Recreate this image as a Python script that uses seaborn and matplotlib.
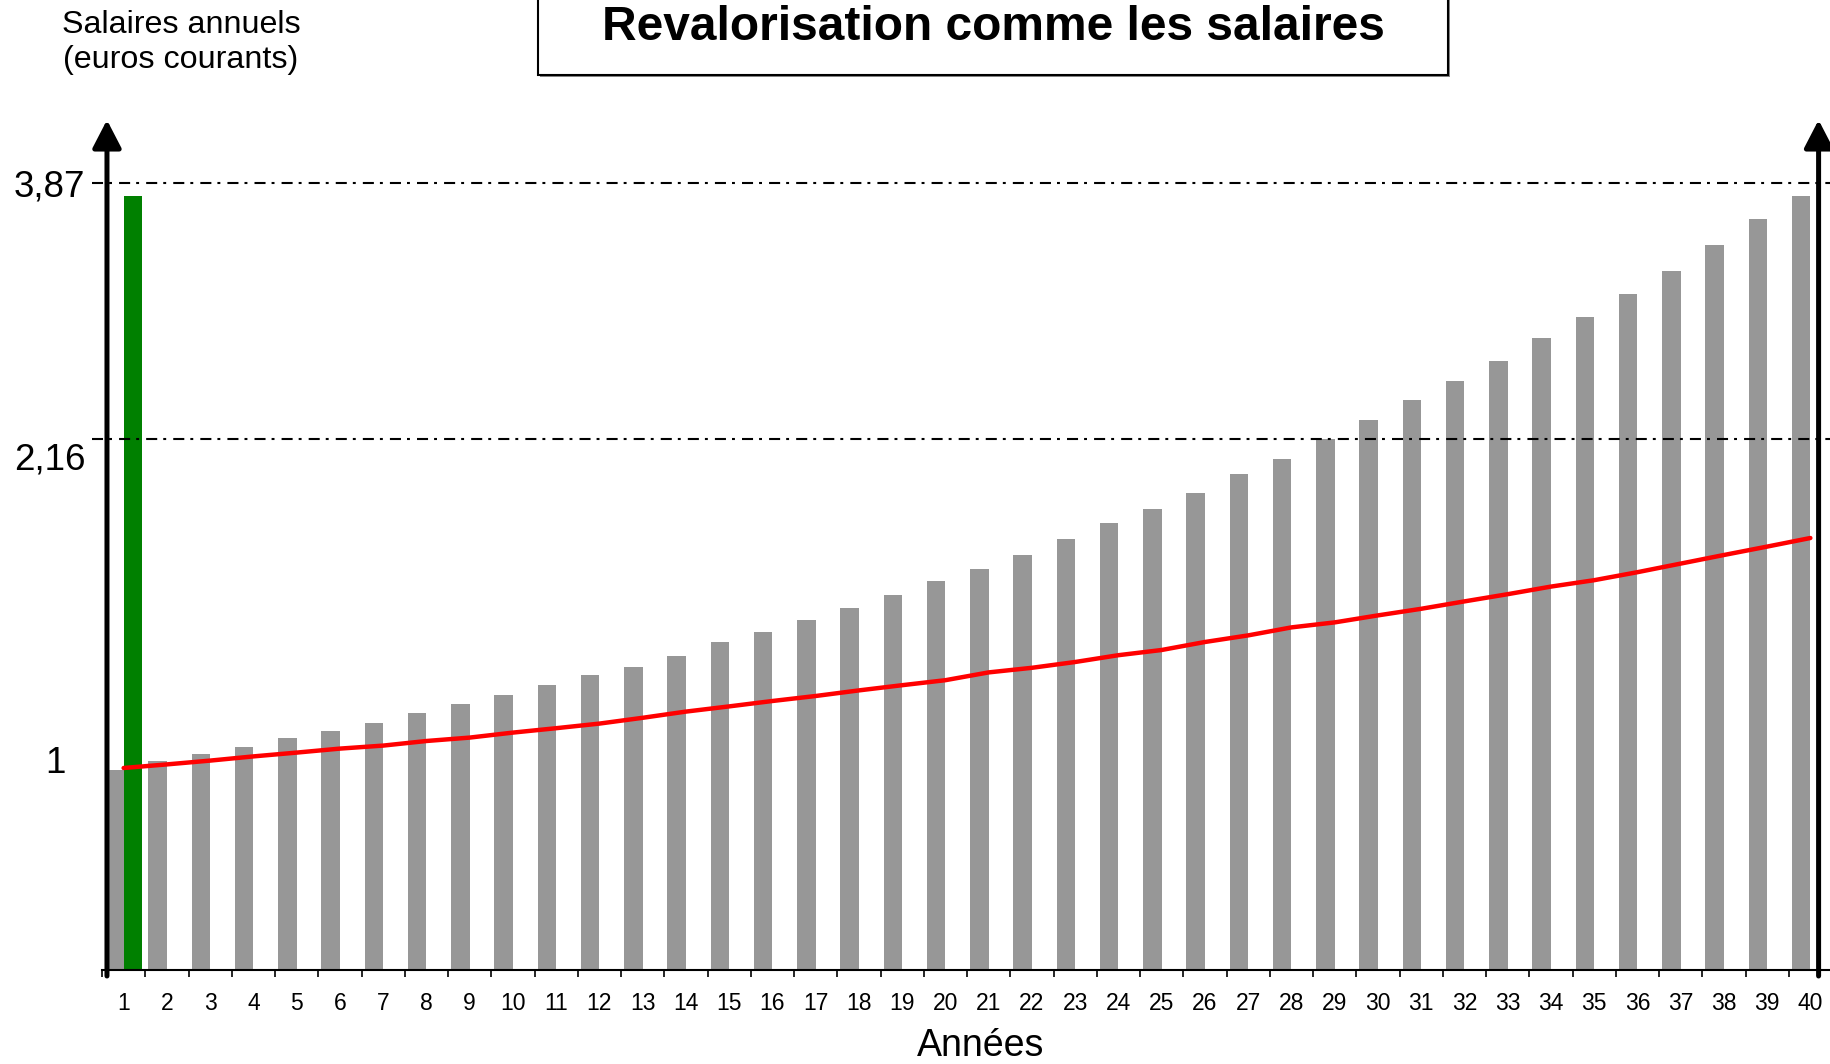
import numpy as np
import pandas as pd
import matplotlib
matplotlib.use("Agg")
import matplotlib.pyplot as plt
import seaborn as sns
from matplotlib.patches import Rectangle

# ---------------- data ----------------
years = [str(i) for i in range(1, 41)]
salaires = [1.00, 1.043, 1.078, 1.113, 1.160, 1.195, 1.236, 1.283, 1.329, 1.376,
            1.423, 1.475, 1.516, 1.569, 1.639, 1.692, 1.750, 1.808, 1.873, 1.943,
            2.007, 2.077, 2.153, 2.235, 2.305, 2.387, 2.480, 2.556, 2.655, 2.749,
            2.848, 2.947, 3.047, 3.158, 3.263, 3.380, 3.497, 3.625, 3.754, 3.87]
base_annee1 = [3.87] + [0.0] * 39
prix = [1.01, 1.028, 1.047, 1.068, 1.087, 1.107, 1.122, 1.145, 1.162, 1.187,
        1.209, 1.232, 1.261, 1.292, 1.318, 1.345, 1.370, 1.398, 1.424, 1.449,
        1.488, 1.511, 1.540, 1.574, 1.600, 1.640, 1.673, 1.713, 1.738, 1.773,
        1.806, 1.843, 1.879, 1.917, 1.949, 1.989, 2.032, 2.075, 2.117, 2.16]
ref_levels = [3.935, 2.655]
ytick_labels = ["3,87", "2,16", "1"]
ytick_values = [3.865, 2.505, 0.985]

title = "Revalorisation comme les salaires"
ylab = ["Salaires annuels", "(euros courants)"]
xlab = "Années"

# ---------------- style ----------------
sns.set_theme(style="white")
plt.rcParams["font.family"] = ["Liberation Sans", "DejaVu Sans"]
plt.rcParams["text.color"] = "black"
plt.rcParams["xtick.color"] = "black"
plt.rcParams["xtick.labelcolor"] = "black"

W, H = 1831, 1064
fig = plt.figure(figsize=(W / 100, H / 100), dpi=100)
ax = fig.add_axes([102 / W, 94 / H, 1730 / W, 850 / H])

df = pd.DataFrame({
    "annee": years * 2,
    "valeur": salaires + base_annee1,
    "serie": ["Salaires"] * 40 + ["Base"] * 40,
})
sns.barplot(data=df, x="annee", y="valeur", hue="serie", order=years,
            hue_order=["Salaires", "Base"],
            palette={"Salaires": "#979797", "Base": "#008000"},
            width=0.85, linewidth=0, saturation=1, legend=False, ax=ax,
            zorder=2)

sns.lineplot(x=np.arange(len(prix)), y=prix, color="#ff0000", linewidth=3.2,
             ax=ax, zorder=4)

ax.set_xlim(-0.5, 39.5)
ax.set_ylim(0, 4.25)
ax.set_xlabel("")
ax.set_ylabel("")

# x ticks
ax.set_xticks(range(40))
ax.set_xticklabels(years, fontsize=16.5, color="black")
ax.set_xticks(np.arange(-0.5, 39.0, 1.0), minor=True)
ax.tick_params(axis="x", which="major", length=0, pad=15.5, bottom=True)
ax.tick_params(axis="x", which="minor", length=5, width=1.2, color="black",
               direction="out", bottom=True)
ax.set_yticks([])

for s in ["left", "top", "right"]:
    ax.spines[s].set_visible(False)
ax.spines["bottom"].set_color("black")
ax.spines["bottom"].set_linewidth(1.5)

# reference dash-dot lines
for lvl in ref_levels:
    ax.hlines(lvl, -0.73, 39.5, colors="black", linewidth=1.5,
              linestyles=[(0, (5.3, 2.9, 1.4, 3.4))], clip_on=False, zorder=5)

# y labels as texts
for lab, val, xp in zip(ytick_labels, ytick_values, [49, 50, 55]):
    ax.text((xp - 102) / 1730, val, lab, transform=ax.get_yaxis_transform(),
            ha="center", va="baseline", fontsize=26.5, color="black")

# arrows (axes)
for xa in [-0.385, 39.19]:
    ax.annotate("", xy=(xa, 4.25), xytext=(xa, -0.03),
                arrowprops=dict(arrowstyle="-|>,head_length=0.85,head_width=0.44",
                                lw=3.6, color="black", mutation_scale=20,
                                shrinkA=0, shrinkB=0),
                annotation_clip=False, zorder=6)

# title box
fig.add_artist(Rectangle((540 / W, 1 - 77 / H), 910 / W, 0.2,
                         transform=fig.transFigure, facecolor="#888888",
                         edgecolor="none", zorder=0))
fig.add_artist(Rectangle((538 / W, 1 - 75 / H), 910 / W, 0.2,
                         transform=fig.transFigure, facecolor="white",
                         edgecolor="black", linewidth=1.5, zorder=1))
fig.text(993 / W, 1 - 40 / H, title, ha="center", va="baseline",
         fontsize=34.5, fontweight="bold", color="black", zorder=3)

fig.text(181 / W, 1 - 33 / H, ylab[0], ha="center", va="baseline",
         fontsize=23.2, color="black")
fig.text(181 / W, 1 - 68 / H, ylab[1], ha="center", va="baseline",
         fontsize=23.2, color="black")
fig.text(981 / W, 1 - 1056 / H, xlab, ha="center", va="baseline",
         fontsize=27, color="black")

fig.savefig("out.png", dpi=100)
